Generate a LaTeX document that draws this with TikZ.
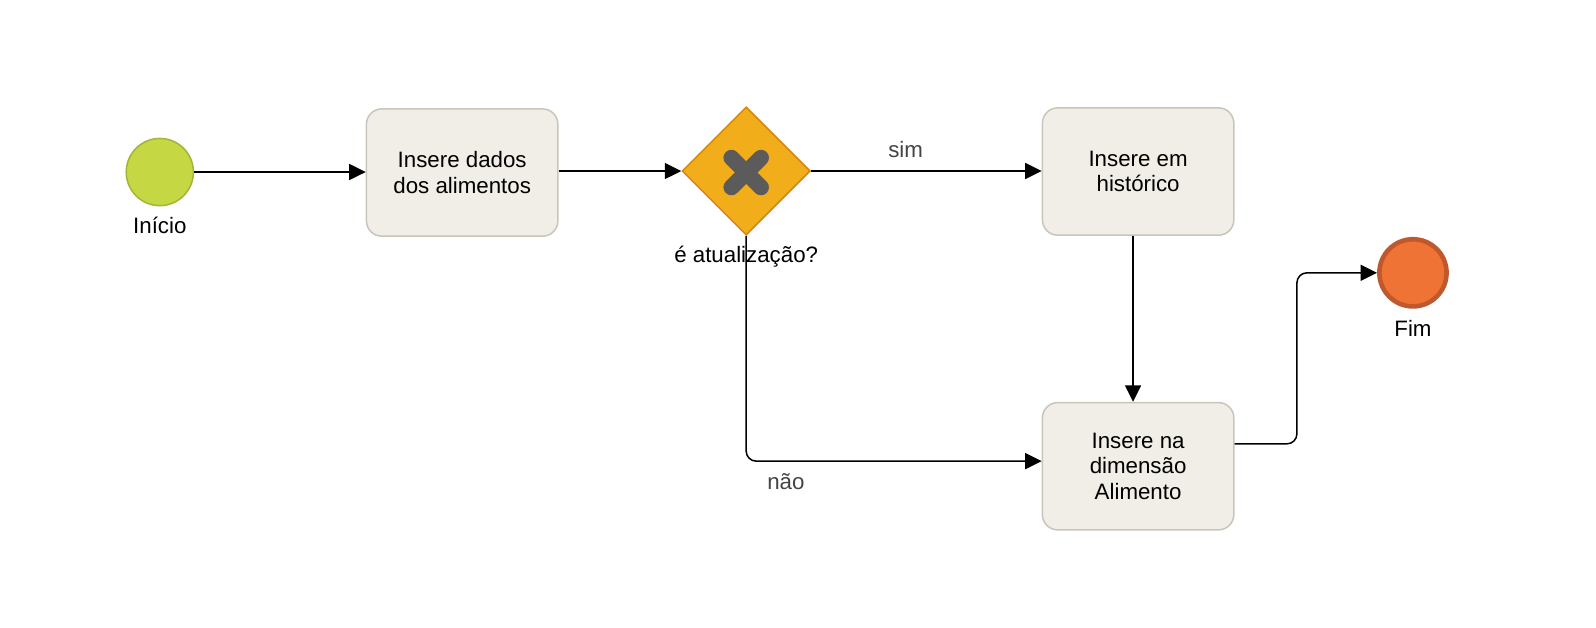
\documentclass[tikz,border=0pt]{standalone}
\usepackage{fontspec}
\setmainfont{Liberation Sans}
\usetikzlibrary{arrows.meta,shapes.geometric}
\definecolor{startfill}{HTML}{C5D843}
\definecolor{startdraw}{HTML}{A3B536}
\definecolor{taskfill}{HTML}{F0EEE6}
\definecolor{taskdraw}{HTML}{C9C5BA}
\definecolor{gwfill}{HTML}{F2AE1A}
\definecolor{gwdraw}{HTML}{D6850F}
\definecolor{xmark}{HTML}{5B5B5B}
\definecolor{endfill}{HTML}{F07336}
\definecolor{enddraw}{HTML}{C0582E}
\definecolor{lbl}{HTML}{444444}
\begin{document}
\begin{tikzpicture}[x=1.018pt,y=-1.018pt,
  every node/.style={font=\fontsize{22.3pt}{25.5pt}\selectfont},
  task/.style={draw=taskdraw,fill=taskfill,line width=1.5pt,rounded corners=15.3pt,minimum width=191.4pt,minimum height=127.3pt,align=center,inner sep=0pt},
  flow/.style={line width=1.5pt,-{Triangle[length=16.5pt,width=16pt]},rounded corners=10pt},
  txt/.style={inner sep=0pt,text=black},
  edgelbl/.style={inner sep=0pt,text=lbl}]
\useasboundingbox (0,0) rectangle (1567.8,616.9);
% start
\node[circle,draw=startdraw,fill=startfill,line width=1.5pt,minimum size=67.2pt,inner sep=0pt] (start) at (157,169) {};
\node[txt] (startl) at (157,221) {Início};
% tasks
\node[task] (t1) at (454,169.5) {Insere dados\\dos alimentos};
\node[task] (t2) at (1118,168.5) {Insere em\\histórico};
\node[task] (t3) at (1118,458) {Insere na\\dimensão\\Alimento};
% gateway
\node[diamond,draw=gwdraw,fill=gwfill,line width=1.5pt,minimum width=128.3pt,minimum height=128.3pt,inner sep=0pt,aspect=1] (gw) at (733,168) {};
\draw[xmark,line width=16pt,line cap=round] (gw.center) ++(-14.5,-13) -- ++(29,29);
\draw[xmark,line width=16pt,line cap=round] (gw.center) ++(14.5,-13) -- ++(-29,29);
\node[txt] (gwl) at (733,252.5) {é atualização?};
% end
\node[circle,draw=enddraw,fill=endfill,line width=4.6pt,minimum size=67.2pt,inner sep=0pt] (end) at (1388,268) {};
\node[txt] (endl) at (1388,323) {Fim};
% flows
\draw[flow] (start.east) -- (t1.west |- start.east);
\draw[flow] (t1.east |- gw.west) -- (gw.west);
\draw[flow] (gw.east) -- (t2.west |- gw.east) node[edgelbl,pos=0.41,above=13pt] (siml) {sim};
\coordinate (nc) at (733,453);
\draw[flow] (gw.south) -- (nc) -- (t3.west |- nc);
\node[edgelbl] (naol) at (772,473) {não};
\draw[flow] (t2.south -| 1113,0) -- (t3.north -| 1113,0);
\coordinate (j1) at (1274,436);
\coordinate (j2) at (1274,268);
\draw[flow] (t3.east |- j1) -- (j1) -- (j2) -- (end.west);
\end{tikzpicture}
\end{document}
